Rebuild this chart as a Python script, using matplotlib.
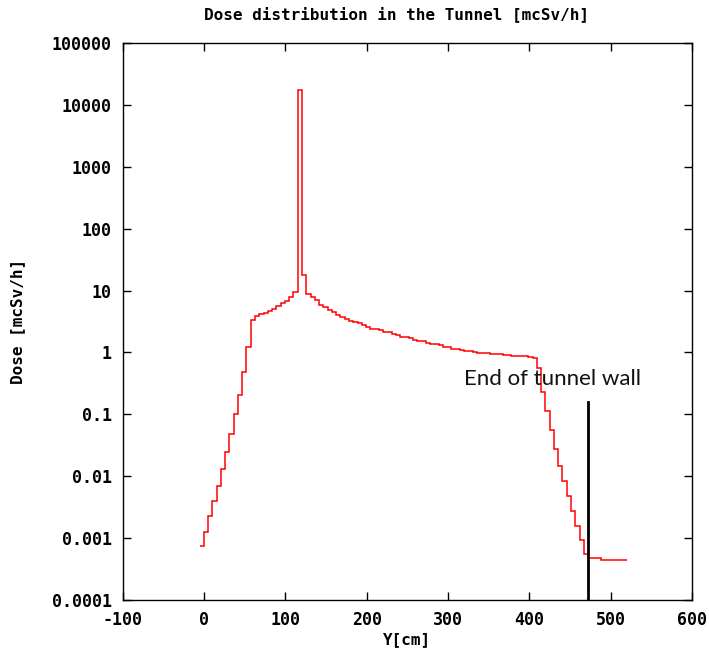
import numpy as np
import matplotlib
matplotlib.use("Agg")
import matplotlib.pyplot as plt

# scoring bins along Y (cm): 100 bins of 5.25 cm
y_start = -5.5
bin_width = 5.25
n_bins = 100

# dose per bin [mcSv/h]
dose = [
    7.5e-4, 1.27e-3, 2.25e-3, 4.0e-3, 7.0e-3, 0.0131, 0.0247, 0.048,
    0.101, 0.208, 0.484, 1.23,
    3.3, 3.9, 4.1, 4.35, 4.6, 5.1, 5.7, 6.2, 6.8, 7.9, 9.3,
    17400.0,
    17.8, 8.8, 7.8, 6.9, 5.85, 5.37, 4.86, 4.46, 4.03, 3.7, 3.48, 3.27,
    3.15, 2.96, 2.78, 2.61, 2.4, 2.35,
    2.31, 2.17, 2.11, 1.99, 1.90, 1.80, 1.80, 1.69, 1.59, 1.52, 1.52,
    1.41, 1.37, 1.37, 1.31, 1.21, 1.21, 1.15, 1.15, 1.10, 1.04, 1.04,
    1.0, 0.99, 0.97, 0.97, 0.94, 0.94, 0.94, 0.91, 0.91, 0.89, 0.89,
    0.87, 0.87, 0.85, 0.82,
    0.55, 0.233, 0.114, 0.056, 0.0279, 0.0147, 0.0083, 0.0048, 0.00278,
    0.00159, 0.000925, 0.00055,
    0.000473, 0.000473, 0.000473,
    0.000445, 0.000445, 0.000445, 0.000445, 0.000445, 0.000445,
]

wall_y = 472
wall_top = 0.16
wall_text = "End of tunnel wall"

xticks = [-100, 0, 100, 200, 300, 400, 500, 600]
yticks = [1e-4, 1e-3, 1e-2, 1e-1, 1, 10, 100, 1000, 10000, 100000]
ytick_labels = ["0.0001", "0.001", "0.01", "0.1", "1", "10", "100",
                "1000", "10000", "100000"]

edges = y_start + bin_width * np.arange(n_bins + 1)

mono = "DejaVu Sans Mono"

fig = plt.figure(figsize=(7.09, 6.52), dpi=100)
ax = fig.add_axes([0.173, 0.080, 0.803, 0.854])

ax.stairs(dose, edges, color="red", lw=1.1, baseline=None)
ax.plot([wall_y, wall_y], [1e-4, wall_top], color="black", lw=2.0)
ax.text(320, 0.3, wall_text, fontsize=16, family="Lato", color="#111111")

ax.set_yscale("log")
ax.set_xlim(-100, 600)
ax.set_ylim(1e-4, 1e5)

ax.set_xticks(xticks)
ax.set_xticklabels([str(v) for v in xticks])
ax.set_yticks(yticks)
ax.set_yticklabels(ytick_labels)
ax.yaxis.set_minor_locator(matplotlib.ticker.NullLocator())

ax.tick_params(which="major", direction="in", length=5.5, width=1.0,
               top=True, right=True, pad=8)
for lab in ax.get_xticklabels() + ax.get_yticklabels():
    lab.set_family(mono)
    lab.set_fontweight("bold")
    lab.set_fontsize(12)

for sp in ax.spines.values():
    sp.set_linewidth(1.0)

ax.set_xlabel("Y[cm]", family=mono, fontweight="bold", fontsize=11.5)
ax.set_ylabel("Dose [mcSv/h]", family=mono, fontweight="bold", fontsize=11.5)
ax.xaxis.set_label_coords(0.5, -0.058)
ax.yaxis.set_label_coords(-0.172, 0.5)

fig.text(0.559, 0.978, "Dose distribution in the Tunnel [mcSv/h]",
         family=mono, fontweight="bold", fontsize=11.5, ha="center", va="center")

fig.savefig("out.png", dpi=100)
